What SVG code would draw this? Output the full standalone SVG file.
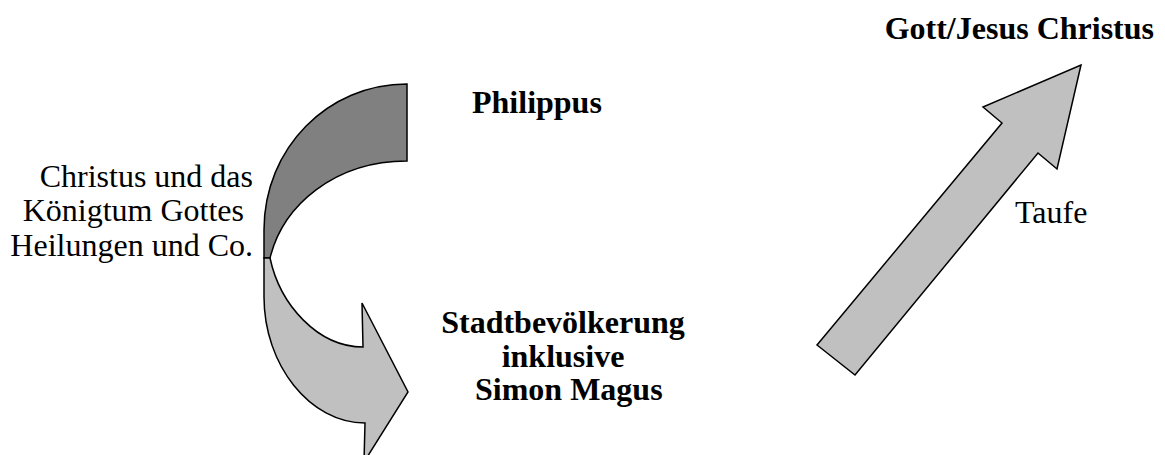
<svg xmlns="http://www.w3.org/2000/svg" width="1165" height="455" viewBox="0 0 1165 455">
<style>
text{font-family:'Liberation Serif',serif;font-size:32px;fill:#000}
.b{font-weight:bold}
.sh{stroke:#000;stroke-width:1.5;stroke-linejoin:miter}
.dark{fill:#808080}
.light{fill:#c0c0c0}
</style>
<rect width="1165" height="455" fill="#fff"/>
<g id="connectors">
<path id="curve-upper" class="sh dark" d="M407,84 L407,161 C335,161 283,205 270,258 L264,258 L264,230 C264,148 328,84 407,84 Z"/>
<path id="curve-lower" class="sh light" d="M270,258 C280,305 318,347 363,347 L362,303 L408,392 L364,462 L365,423 C310,423 264,365 264,297 L264,258 Z"/>
<path id="arrow-taufe" class="sh light" d="M817,345 L1002,123 L983,107 L1081,65 L1057,169 L1038,153 L855,375 Z"/>
</g>
<g id="node-philippus"><text class="b" x="472" y="113" font-family="Liberation Serif">Philippus</text></g>
<g id="node-gott"><text class="b" x="1154" y="39" text-anchor="end" font-family="Liberation Serif">Gott/Jesus Christus</text></g>
<g id="node-stadt" font-family="Liberation Serif">
<text class="b" x="563" y="333" text-anchor="middle">Stadtbevölkerung</text>
<text class="b" x="563" y="367" text-anchor="middle">inklusive</text>
<text class="b" x="475" y="400">Simon Magus</text>
</g>
<g id="label-left" font-family="Liberation Serif">
<text x="253" y="187" text-anchor="end">Christus und das</text>
<text x="244" y="221" text-anchor="end">Königtum Gottes</text>
<text x="253" y="256" text-anchor="end">Heilungen und Co.</text>
</g>
<g id="label-taufe"><text x="1015" y="223">Taufe</text></g>
</svg>
